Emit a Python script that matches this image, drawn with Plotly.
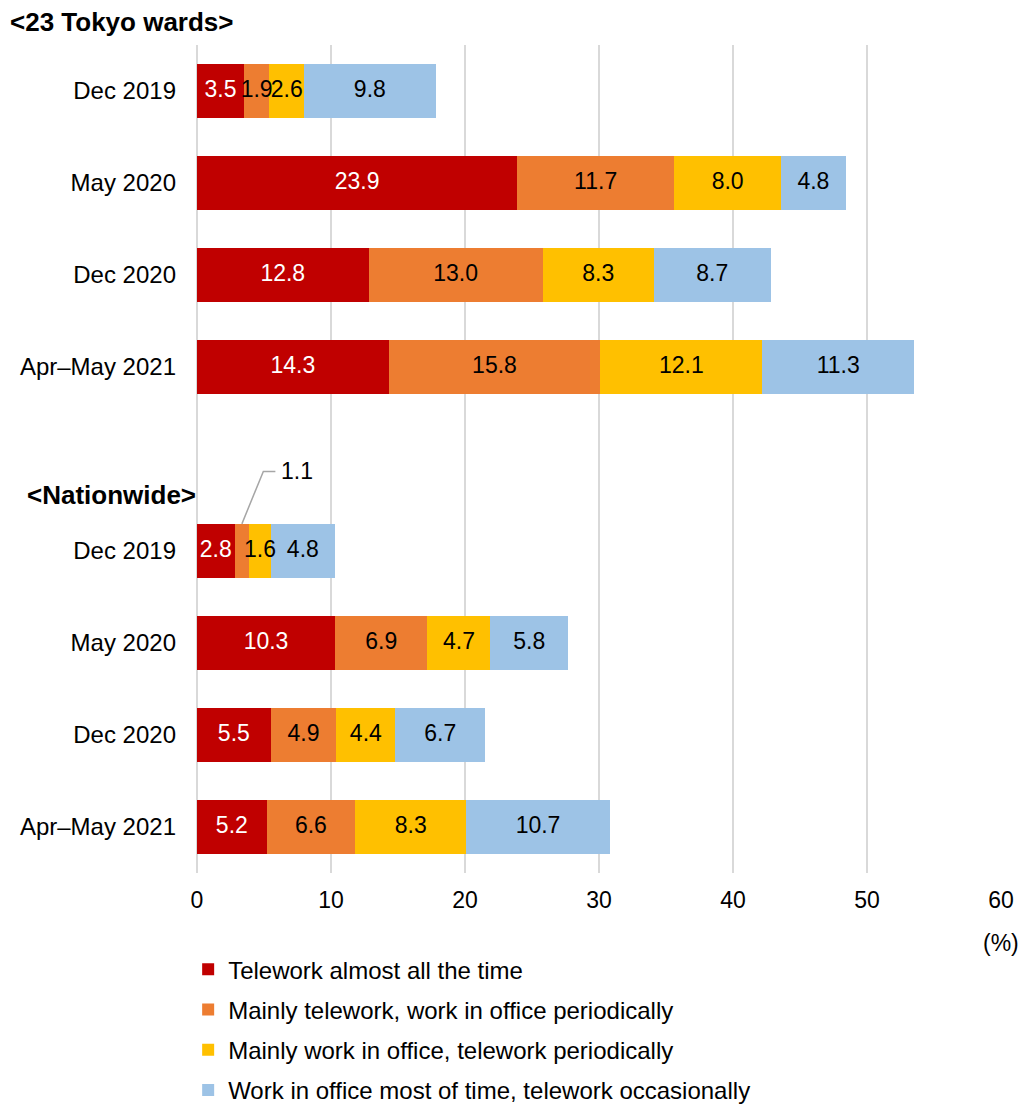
import plotly.graph_objects as go

# Survey periods (same for both regions)
periods = ["Dec 2019", "May 2020", "Dec 2020", "Apr–May 2021"]

series_names = [
    "Telework almost all the time",
    "Mainly telework, work in office periodically",
    "Mainly work in office, telework periodically",
    "Work in office most of time, telework occasionally",
]
series_colors = ["#C00000", "#ED7D31", "#FFC000", "#9DC3E6"]
text_colors = ["white", "black", "black", "black"]

# Shares (%) by work style, 23 Tokyo wards
tokyo_almost_all = [3.5, 23.9, 12.8, 14.3]
tokyo_mainly_tele = [1.9, 11.7, 13.0, 15.8]
tokyo_mainly_office = [2.6, 8.0, 8.3, 12.1]
tokyo_occasional = [9.8, 4.8, 8.7, 11.3]

# Shares (%) by work style, nationwide
nation_almost_all = [2.8, 10.3, 5.5, 5.2]
nation_mainly_tele = [1.1, 6.9, 4.9, 6.6]
nation_mainly_office = [1.6, 4.7, 4.4, 8.3]
nation_occasional = [4.8, 5.8, 6.7, 10.7]

tokyo = [tokyo_almost_all, tokyo_mainly_tele, tokyo_mainly_office, tokyo_occasional]
nation = [nation_almost_all, nation_mainly_tele, nation_mainly_office, nation_occasional]

# Row slots: Tokyo rows 0-3, a blank slot 4, nationwide rows 5-8
tokyo_rows = [0, 1, 2, 3]
nation_rows = [5, 6, 7, 8]
row_pos = tokyo_rows + nation_rows
row_labels = periods + periods

FONT = "Arial, 'Liberation Sans', sans-serif"
BAR_W = 0.59

fig = go.Figure()
all_vals = [tokyo[i] + nation[i] for i in range(4)]

for i, name in enumerate(series_names):
    fig.add_trace(go.Bar(
        x=all_vals[i], y=row_pos, orientation="h", name=name,
        marker=dict(color=series_colors[i], line=dict(width=0)),
        width=BAR_W, legendgroup=f"g{i}",
        hoverinfo="x+name",
    ))

# Value labels drawn above all bars so narrow segments can spill over neighbours
left = [0.0] * len(row_pos)
for i in range(4):
    vals = all_vals[i]
    mids = [l + v / 2 for l, v in zip(left, vals)]
    labels = [f"{v:.1f}" for v in vals]
    if i == 1:
        # the narrow nationwide Dec 2019 segment uses a callout instead
        labels[4] = ""
    fig.add_trace(go.Scatter(
        x=mids, y=row_pos, mode="text", text=labels,
        textposition="middle center",
        textfont=dict(family=FONT, size=23, color=text_colors[i]),
        showlegend=False, hoverinfo="skip",
    ))
    left = [l + v for l, v in zip(left, vals)]

# Callout for the nationwide Dec 2019 "mainly telework" segment
seg_x = nation_almost_all[0] + nation_mainly_tele[0] / 2
seg_top = nation_rows[0] - BAR_W / 2
fig.add_trace(go.Scatter(
    x=[seg_x, seg_x + 1.6, seg_x + 2.5],
    y=[seg_top, seg_top - 0.57, seg_top - 0.57],
    mode="lines", line=dict(color="#A6A6A6", width=1.5),
    showlegend=False, hoverinfo="skip",
))
fig.add_annotation(
    x=seg_x + 2.75, y=seg_top - 0.57, xref="x", yref="y",
    text=f"{nation_mainly_tele[0]:.1f}", showarrow=False, xanchor="left",
    font=dict(family=FONT, size=23, color="black"),
)

fig.update_layout(
    barmode="stack",
    width=1024, height=1106,
    margin=dict(l=197, r=23, t=45, b=233, autoexpand=False),
    plot_bgcolor="white", paper_bgcolor="white",
    font=dict(family=FONT, size=23, color="black"),
    xaxis=dict(
        range=[0, 60], dtick=10, showgrid=True, gridcolor="#D9D9D9", gridwidth=2,
        zeroline=True, zerolinecolor="#D9D9D9", zerolinewidth=2,
        showline=False, ticks="", ticklabelstandoff=11,
        tickfont=dict(family=FONT, size=23),
    ),
    yaxis=dict(
        range=[8.5, -0.5], tickvals=row_pos, ticktext=row_labels,
        showgrid=False, zeroline=False, showline=False, ticks="",
        ticklabelstandoff=20, tickfont=dict(family=FONT, size=24),
    ),
    legend=dict(
        x=-0.011, y=-0.0896, xanchor="left", yanchor="top",
        orientation="v", traceorder="grouped", tracegroupgap=6,
        font=dict(family=FONT, size=24), itemwidth=30,
        bgcolor="rgba(0,0,0,0)",
    ),
    showlegend=True,
)

fig.add_annotation(
    x=-0.235, y=1.0278, xref="paper", yref="paper", xanchor="left", yanchor="middle",
    text="<b>&lt;23 Tokyo wards&gt;</b>", showarrow=False,
    font=dict(family=FONT, size=26, color="black"),
)
fig.add_annotation(
    x=-0.214, y=0.4565, xref="paper", yref="paper", xanchor="left", yanchor="middle",
    text="<b>&lt;Nationwide&gt;</b>", showarrow=False,
    font=dict(family=FONT, size=26, color="black"),
)
fig.add_annotation(
    x=1.0, y=-0.0845, xref="paper", yref="paper", xanchor="center", yanchor="middle",
    text="(%)", showarrow=False, font=dict(family=FONT, size=23, color="black"),
)

fig.write_html("out.html")
